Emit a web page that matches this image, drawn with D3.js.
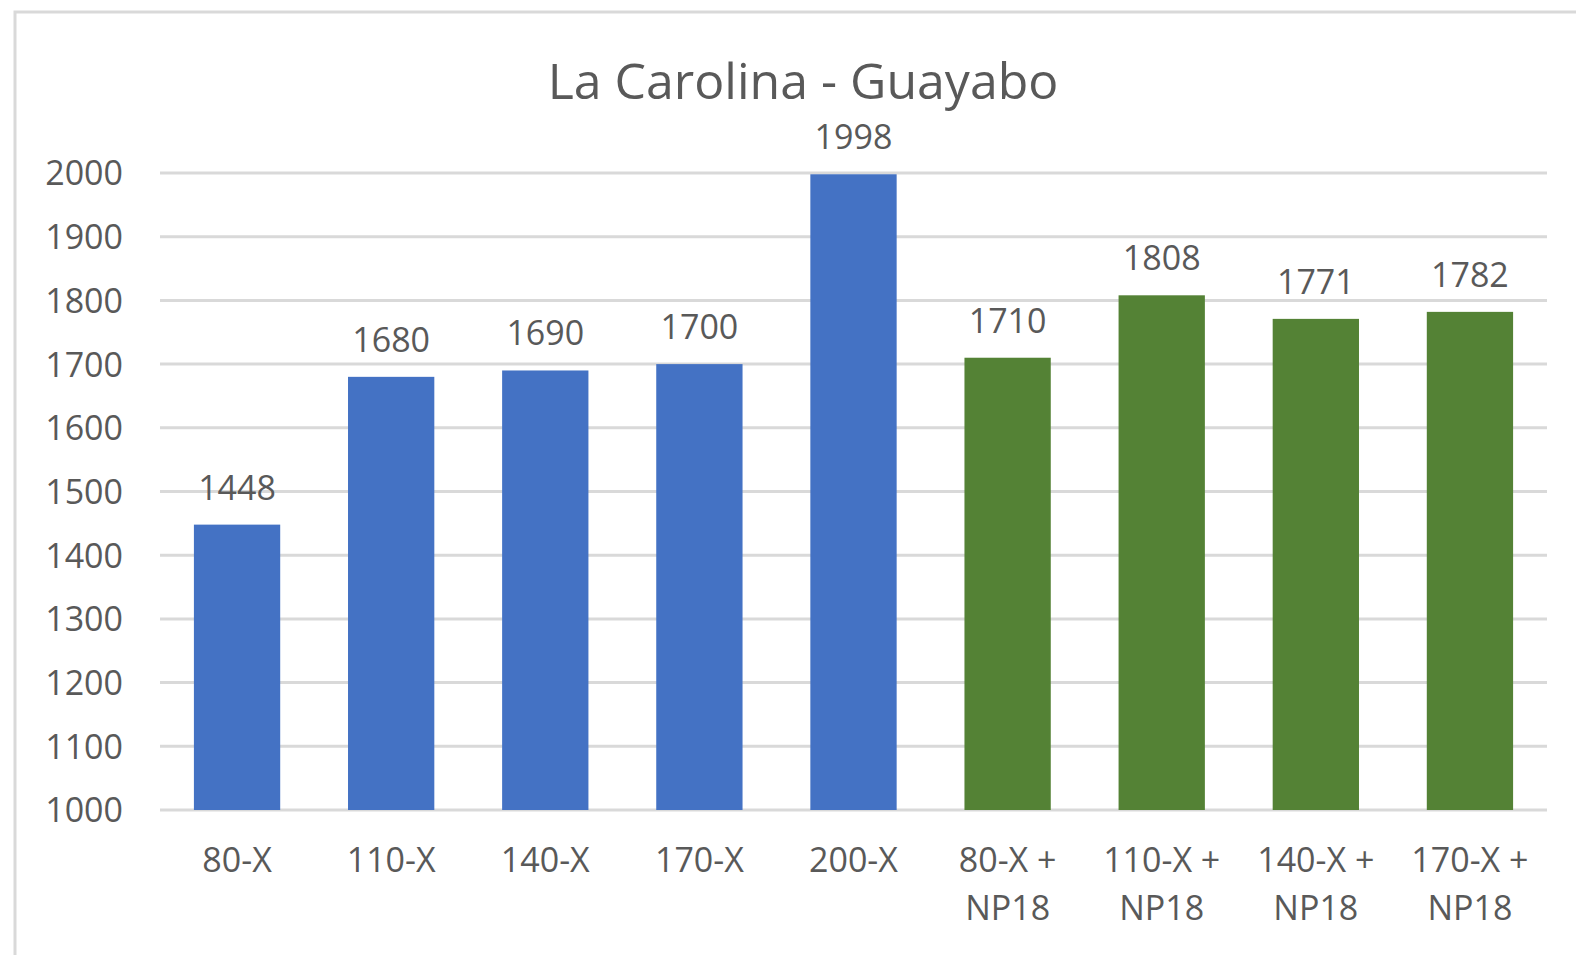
<!DOCTYPE html>
<html>
<head>
<meta charset="utf-8">
<script src="https://cdn.jsdelivr.net/npm/d3@7"></script>
<style>
  body { margin: 0; background: #fff; }
  .chart text { font-family: "Open Sans", sans-serif; fill: #595959; }
</style>
</head>
<body>
<div class="chart"></div>
<script>
var categories = ["80-X", "110-X", "140-X", "170-X", "200-X",
                  "80-X + NP18", "110-X + NP18", "140-X + NP18", "170-X + NP18"];
var values = [1448, 1680, 1690, 1700, 1998, 1710, 1808, 1771, 1782];
var groups = ["solo", "solo", "solo", "solo", "solo", "np18", "np18", "np18", "np18"];
var yTicks = [1000, 1100, 1200, 1300, 1400, 1500, 1600, 1700, 1800, 1900, 2000];

var W = 1576, H = 955;
var margin = {top: 173, right: 29, bottom: 145, left: 160},
    width = W - margin.left - margin.right,
    height = H - margin.top - margin.bottom;

var svg = d3.select(".chart").append("svg")
    .attr("width", W)
    .attr("height", H);

// outer frame
svg.append("rect")
    .attr("x", 15).attr("y", 12)
    .attr("width", W).attr("height", H)
    .attr("fill", "none")
    .attr("stroke", "#d9d9d9")
    .attr("stroke-width", 3);

var g = svg.append("g")
    .attr("transform", "translate(" + margin.left + "," + margin.top + ")");

var x = d3.scaleBand()
    .domain(categories)
    .range([0, width])
    .paddingInner(0.44)
    .paddingOuter(0.22);

var y = d3.scaleLinear()
    .domain([1000, 2000])
    .range([height, 0]);

var color = d3.scaleOrdinal()
    .domain(["solo", "np18"])
    .range(["#4472c4", "#548235"]);

// gridlines
g.selectAll(".grid")
    .data(yTicks)
  .enter().append("line")
    .attr("class", "grid")
    .attr("x1", 0).attr("x2", width)
    .attr("y1", function(d) { return y(d); })
    .attr("y2", function(d) { return y(d); })
    .attr("stroke", "#d9d9d9")
    .attr("stroke-width", 3);

var yAxis = d3.axisLeft(y)
    .tickValues(yTicks)
    .tickFormat(d3.format("d"))
    .tickSize(0)
    .tickPadding(37);
g.append("g")
    .attr("class", "y axis")
    .call(yAxis)
    .call(function(s) { s.select(".domain").remove(); })
    .selectAll("text")
    .style("font-size", "34px")
    .attr("dy", "0.35em");

// bars
g.selectAll(".bar")
    .data(values)
  .enter().append("rect")
    .attr("class", "bar")
    .attr("x", function(d, i) { return x(categories[i]); })
    .attr("width", x.bandwidth())
    .attr("y", function(d) { return y(d); })
    .attr("height", function(d) { return height - y(d); })
    .attr("fill", function(d, i) { return color(groups[i]); });

// value labels
g.selectAll(".label")
    .data(values)
  .enter().append("text")
    .attr("class", "label")
    .attr("x", function(d, i) { return x(categories[i]) + x.bandwidth() / 2; })
    .attr("y", function(d) { return y(d) - 25; })
    .attr("text-anchor", "middle")
    .style("font-size", "34px")
    .text(function(d) { return d; });

// category labels, wrapped at " + "
var xl = g.selectAll(".xlabel")
    .data(categories)
  .enter().append("text")
    .attr("class", "xlabel")
    .attr("text-anchor", "middle")
    .attr("transform", function(d) {
      return "translate(" + (x(d) + x.bandwidth() / 2) + "," + (height + 62) + ")";
    })
    .style("font-size", "34px");

xl.each(function(d) {
  var parts = d.split(" + ");
  var t = d3.select(this);
  if (parts.length === 1) {
    t.append("tspan").attr("x", 0).attr("y", 0).text(d);
  } else {
    t.append("tspan").attr("x", 0).attr("y", 0).text(parts[0] + " +");
    t.append("tspan").attr("x", 0).attr("y", 48).text(parts[1]);
  }
});

// title
svg.append("text")
    .attr("x", 803)
    .attr("y", 99)
    .attr("text-anchor", "middle")
    .style("font-size", "50px")
    .text("La Carolina - Guayabo");
</script>
</body>
</html>
